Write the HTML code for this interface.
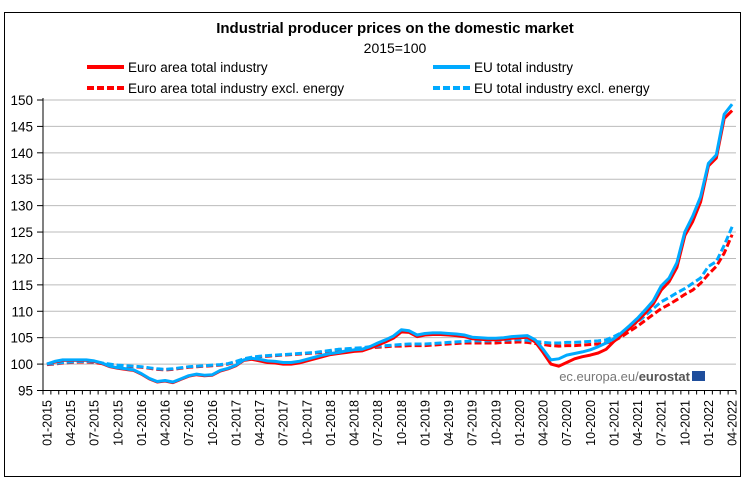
<!DOCTYPE html>
<html><head><meta charset="utf-8"><style>
body{margin:0;background:#fff;}
svg{display:block;font-family:"Liberation Sans",Arial,sans-serif;}
</style></head><body>
<svg width="754" height="484" viewBox="0 0 754 484">
<rect x="4.5" y="12.5" width="736" height="464" fill="#fff" stroke="#000" stroke-width="1"/>
<text x="395" y="33" text-anchor="middle" font-size="15" font-weight="bold">Industrial producer prices on the domestic market</text>
<text x="395" y="53" text-anchor="middle" font-size="14">2015=100</text>
<g>
<g><line x1="87" y1="67" x2="124" y2="67" stroke="#f00" stroke-width="4"/><text x="128" y="72" font-size="13.5">Euro area total industry</text></g>
<g><line x1="433" y1="67" x2="470" y2="67" stroke="#0af" stroke-width="4"/><text x="474" y="72" font-size="13.5">EU total industry</text></g>
<g><line x1="87" y1="88" x2="124" y2="88" stroke="#f00" stroke-width="4" stroke-dasharray="7,3"/><text x="128" y="93" font-size="13.5">Euro area total industry excl. energy</text></g>
<g><line x1="433" y1="88" x2="470" y2="88" stroke="#0af" stroke-width="4" stroke-dasharray="7,3"/><text x="474" y="93" font-size="13.5">EU total industry excl. energy</text></g>
</g>
<g id="grid"></g>
<g id="series"></g>
<g id="axes"></g>
<text x="690" y="381" text-anchor="end" font-size="13" fill="#777">ec.europa.eu/<tspan font-weight="bold" fill="#555">eurostat</tspan></text>
<rect x="692" y="371" width="13" height="10" fill="#1f4e9c"/>
</svg>
<script>
const yTicks=[95,100,105,110,115,120,125,130,135,140,145,150];
const euroTotal=[100,100.4,100.7,100.7,100.7,100.7,100.5,100.1,99.5,99.2,99.0,98.8,
98.1,97.2,96.6,96.8,96.5,97.1,97.7,98.0,97.8,97.9,98.7,99.1,
99.7,100.7,100.9,100.6,100.3,100.2,100.0,100.0,100.2,100.6,101.0,101.4,
101.8,102.0,102.2,102.4,102.5,103.0,103.6,104.2,104.9,106.1,106.0,105.2,
105.5,105.6,105.6,105.5,105.4,105.2,104.8,104.7,104.6,104.6,104.7,104.9,
105.0,105.1,104.2,102.2,100.0,99.6,100.3,101.0,101.4,101.7,102.1,102.8,
104.3,105.5,106.8,108.2,109.7,111.4,114.0,115.6,118.3,124.3,127.0,130.7,
137.5,139.0,146.5,148.0];
const euTotal=[100,100.5,100.8,100.8,100.8,100.8,100.6,100.2,99.6,99.3,99.1,98.9,
98.2,97.3,96.7,96.9,96.6,97.2,97.8,98.1,97.9,98.0,98.8,99.2,
99.8,100.8,101.1,100.9,100.6,100.5,100.3,100.3,100.5,100.9,101.3,101.7,
102.0,102.2,102.5,102.7,102.8,103.3,104.0,104.6,105.3,106.5,106.3,105.5,
105.8,105.9,105.9,105.8,105.7,105.5,105.1,105.0,104.9,104.9,105.0,105.2,
105.3,105.4,104.6,102.8,100.8,101.0,101.7,102.0,102.3,102.7,103.3,104.0,
104.8,106.0,107.3,108.7,110.3,112.0,114.8,116.3,119.2,125.0,128.0,131.7,
138.0,139.6,147.3,149.2];
const euroExcl=[99.9,100.0,100.2,100.3,100.4,100.4,100.3,100.1,99.9,99.7,99.6,99.5,
99.4,99.2,99.0,98.9,99.0,99.2,99.4,99.5,99.6,99.7,99.8,100.0,
100.4,100.9,101.2,101.4,101.5,101.6,101.7,101.8,101.9,102.0,102.1,102.2,
102.4,102.6,102.7,102.8,102.9,103.1,103.2,103.3,103.4,103.4,103.5,103.5,
103.5,103.6,103.7,103.8,103.9,104.0,104.0,104.0,104.0,104.0,104.1,104.1,
104.2,104.1,103.9,103.7,103.5,103.4,103.5,103.5,103.6,103.7,103.8,104.0,
104.4,105.2,106.2,107.2,108.3,109.4,110.5,111.3,112.2,113.2,114.0,115.3,
117.0,118.5,121.0,124.5];
const euExcl=[100,100.1,100.3,100.4,100.5,100.5,100.4,100.2,100.0,99.8,99.7,99.6,
99.5,99.3,99.1,99.0,99.1,99.3,99.5,99.6,99.7,99.8,99.9,100.1,
100.5,101.0,101.3,101.5,101.6,101.7,101.8,101.9,102.0,102.1,102.2,102.4,
102.6,102.8,102.9,103.0,103.1,103.3,103.4,103.5,103.6,103.7,103.8,103.8,
103.8,103.9,104.0,104.1,104.2,104.3,104.4,104.4,104.4,104.5,104.5,104.6,
104.6,104.5,104.3,104.1,104.0,104.0,104.1,104.1,104.2,104.3,104.4,104.6,
105.2,106.0,107.0,108.0,109.2,110.5,111.8,112.6,113.5,114.3,115.3,116.3,
118.5,119.4,122.5,126.0];
const monthLabels=[];
for(let y=2015;y<=2022;y++){for(let m=1;m<=12;m++){monthLabels.push(String(m).padStart(2,'0')+'-'+y);}}
monthLabels.length=88;
const NS='http://www.w3.org/2000/svg';
const X0=43,X1=736,Y0=390.5,Y1=100,VMIN=95,VMAX=150;
const step=(X1-X0)/monthLabels.length;
const xs=i=>X0+step*(i+0.5);
const ys=v=>Y0-(v-VMIN)/(VMAX-VMIN)*(Y0-Y1);
function mk(tag,attrs,parent){const e=document.createElementNS(NS,tag);for(const k in attrs)e.setAttribute(k,attrs[k]);parent.appendChild(e);return e;}
const grid=document.getElementById('grid'),axes=document.getElementById('axes'),ser=document.getElementById('series');
yTicks.forEach(t=>{
  if(t>VMIN){const l=mk('line',{x1:X0,x2:X1,y1:ys(t),y2:ys(t),stroke:'#bbb','stroke-width':1},grid);
  
  }
  const tk=mk('line',{x1:X0-6,x2:X0,y1:ys(t),y2:ys(t),stroke:'#000'},axes);
  
  
  const tx=mk('text',{x:33,y:ys(t)+5,'text-anchor':'end','font-size':13.5},axes);
  tx.textContent=t;
  
  
});
const ya=mk('line',{x1:X0,x2:X0,y1:Y1-2,y2:Y0,stroke:'#000'},axes);


const xa=mk('line',{x1:X0,x2:X1,y1:Y0,y2:Y0,stroke:'#000'},axes);


for(let i=0;i<=monthLabels.length;i++){
  const x=X0+step*i;
  const t=mk('line',{x1:x,x2:x,y1:Y0,y2:Y0+4,stroke:'#000'},axes);
  
  
}
monthLabels.forEach((lab,i)=>{
  if(i%3!==0)return;
  const x=xs(i)+4.5;
  const tx=mk('text',{x:x,y:400,'text-anchor':'end','font-size':12.5,transform:`rotate(-90 ${x} 400)`},axes);
  tx.textContent=lab;
  
  
});
function draw(data,color,dash,name){
  const d=data.slice(0,monthLabels.length).map((v,i)=>(i?'L':'M')+xs(i).toFixed(1)+','+ys(v).toFixed(1)).join('');
  const p=mk('path',{d:d,fill:'none',stroke:color,'stroke-width':3,'stroke-linejoin':'round'},ser);
  if(dash)p.setAttribute('stroke-dasharray','7,3');
  
  
}
draw(euroExcl,'#f00',true,'line-euro-area-excl-energy');
draw(euExcl,'#0af',true,'line-eu-excl-energy');
draw(euroTotal,'#f00',false,'line-euro-area-total');
draw(euTotal,'#0af',false,'line-eu-total');
</script>
</body></html>
